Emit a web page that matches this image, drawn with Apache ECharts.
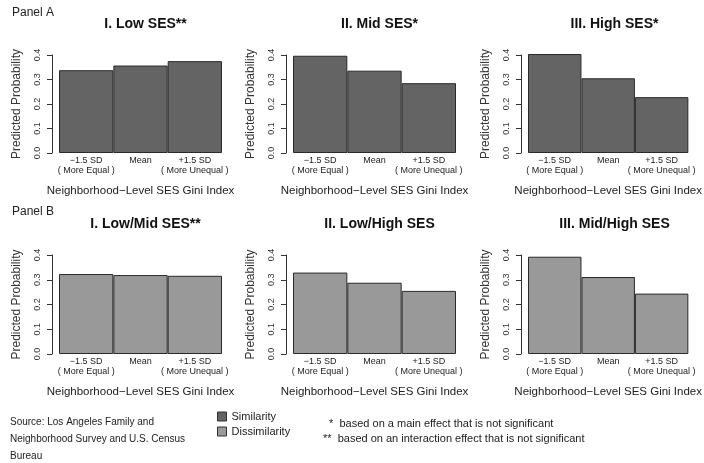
<!DOCTYPE html>
<html><head><meta charset="utf-8">
<script src="https://cdn.jsdelivr.net/npm/echarts@6/dist/echarts.min.js"></script>
<style>html,body{margin:0;padding:0;background:#fff}#c{width:704px;height:463px}</style>
</head><body><div id="c"></div>
<script>
// ---- data ----
const categories = ['\u22121.5 SD\n( More Equal )', 'Mean', '+1.5 SD\n( More Unequal )'];
const panelATitles = ['I. Low SES**', 'II. Mid SES*', 'III. High SES*'];
const panelBTitles = ['I. Low/Mid SES**', 'II. Low/High SES', 'III. Mid/High SES'];
const lowSES = [0.338, 0.357, 0.375];
const midSES = [0.397, 0.336, 0.285];
const highSES = [0.404, 0.305, 0.228];
const lowMidSES = [0.323, 0.319, 0.316];
const lowHighSES = [0.329, 0.288, 0.255];
const midHighSES = [0.393, 0.311, 0.244];
const yMin = 0, yMax = 0.4, yStep = 0.1;
const xAxisTitle = 'Neighborhood\u2212Level SES Gini Index';
const yAxisTitle = 'Predicted Probability';
const legendNames = ['Similarity', 'Dissimilarity'];
const sourceLines = ['Source: Los Angeles Family and', 'Neighborhood Survey and U.S. Census', 'Bureau'];
const noteLines = ['  *  based on a main effect that is not significant', '**  based on an interaction effect that is not significant'];

// ---- layout ----
const FONT = 'Liberation Sans, Arial, sans-serif';
const colLeft = [59, 293, 528];
const plotW = 163;
const rowTop = [55, 255];
const plotH = [98, 99];
const colors = ['#646464', '#999999'];
const panels = [
  {titles: panelATitles, data: [lowSES, midSES, highSES], name: legendNames[0]},
  {titles: panelBTitles, data: [lowMidSES, lowHighSES, midHighSES], name: legendNames[1]}
];

const grid = [], xAxis = [], yAxis = [], series = [], title = [];
title.push({text: 'Panel A', left: 7, top: 2, textStyle: {fontFamily: FONT, fontSize: 12, fontWeight: 'normal', color: '#222'}});
title.push({text: 'Panel B', left: 7, top: 201, textStyle: {fontFamily: FONT, fontSize: 12, fontWeight: 'normal', color: '#222'}});

panels.forEach((p, r) => {
  p.data.forEach((vals, c) => {
    const idx = grid.length;
    grid.push({left: colLeft[c], top: rowTop[r], width: plotW, height: plotH[r], containLabel: false});
    title.push({
      text: p.titles[c], left: colLeft[c] + plotW / 2, top: rowTop[r] - 43, textAlign: 'center',
      textStyle: {fontFamily: FONT, fontSize: 14, fontWeight: 'bold', color: '#111'}
    });
    xAxis.push({
      type: 'category', gridIndex: idx, data: categories, boundaryGap: true,
      axisLine: {show: false}, axisTick: {show: false},
      axisLabel: {fontFamily: FONT, fontSize: 9, lineHeight: 10, color: '#222', margin: 3, interval: 0},
      name: xAxisTitle, nameLocation: 'middle', nameGap: 32,
      nameTextStyle: {fontFamily: FONT, fontSize: 11.5, color: '#222'}
    });
    yAxis.push({
      type: 'value', gridIndex: idx, min: yMin, max: yMax, interval: yStep, offset: 7,
      splitLine: {show: false},
      axisLine: {show: true, lineStyle: {color: '#333', width: 1}},
      axisTick: {show: true, length: 5, lineStyle: {color: '#333'}},
      axisLabel: {fontFamily: FONT, fontSize: 9, color: '#333', rotate: 90, margin: 10,
        formatter: v => v.toFixed(1)},
      name: yAxisTitle, nameLocation: 'middle', nameGap: 29,
      nameTextStyle: {fontFamily: FONT, fontSize: 12, color: '#333'}
    });
    series.push({
      type: 'bar', name: p.name, xAxisIndex: idx, yAxisIndex: idx, data: vals,
      barCategoryGap: '0%', clip: false, silent: true,
      itemStyle: {color: colors[r], borderColor: '#2a2a2a', borderWidth: 1}
    });
  });
});

title.push({text: sourceLines.join('\n'), left: 5, top: 409,
  textStyle: {fontFamily: FONT, fontSize: 10, fontWeight: 'normal', color: '#222', lineHeight: 17}});
title.push({text: noteLines.join('\n'), left: 318, top: 411,
  textStyle: {fontFamily: FONT, fontSize: 11, fontWeight: 'normal', color: '#222', lineHeight: 15}});

const chart = echarts.init(document.getElementById('c'), null, {renderer: 'canvas'});
chart.setOption({
  backgroundColor: '#fff',
  animation: false,
  title, grid, xAxis, yAxis, series,
  legend: {
    data: legendNames, orient: 'vertical', left: 212, top: 406, icon: 'rect',
    itemWidth: 9, itemHeight: 9, itemGap: 4, selectedMode: false,
    itemStyle: {borderColor: '#333', borderWidth: 1},
    textStyle: {fontFamily: FONT, fontSize: 11, color: '#222'}
  }
});
</script></body></html>
